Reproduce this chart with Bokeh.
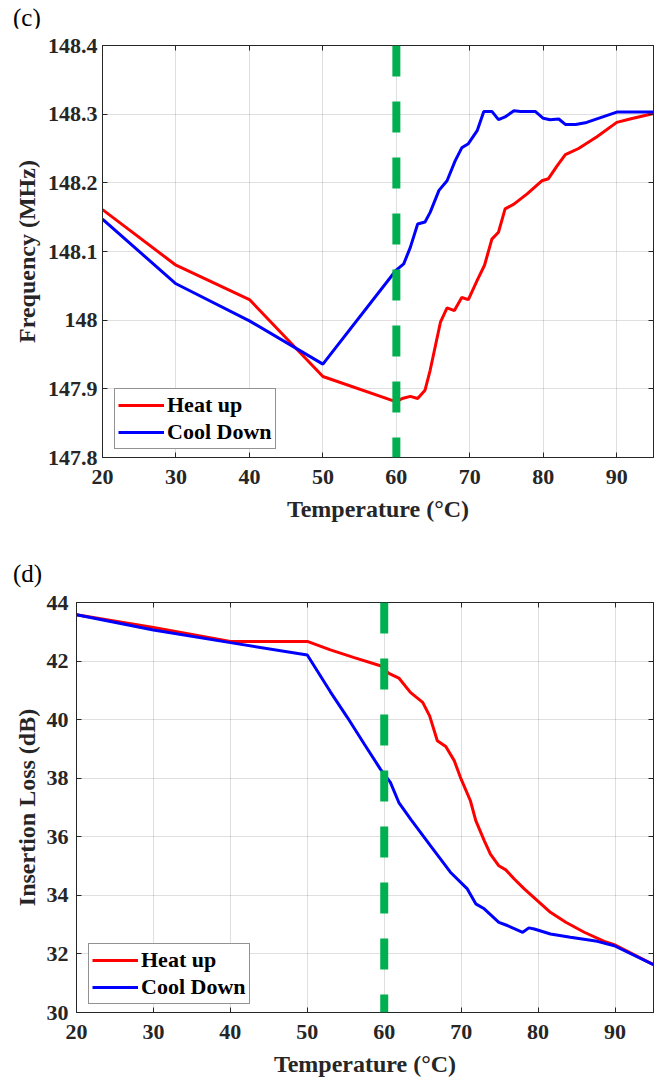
from bokeh.plotting import figure
from bokeh.models import FixedTicker, LinearAxis, Span, Range1d, Div
from bokeh.embed import file_html
from bokeh.resources import INLINE

# ---------------- data ----------------
# (c) Frequency vs temperature
temp_heat_c = [20, 30, 40, 50, 60, 60.8, 61.9, 62.9, 63.9, 64.6, 66.0, 66.9, 67.9, 68.9, 69.8,
               71.0, 72.0, 73.0, 73.9, 74.8, 76.0, 77.8, 79.8, 80.7, 81.9, 83.0, 84.8, 87.3,
               90.0, 91.8, 95]
freq_heat = [148.161, 148.080, 148.030, 147.918, 147.881, 147.886, 147.889, 147.886, 147.898,
             147.927, 147.997, 148.018, 148.014, 148.033, 148.030, 148.058, 148.080, 148.118,
             148.128, 148.162, 148.169, 148.184, 148.203, 148.206, 148.225, 148.241, 148.250,
             148.267, 148.288, 148.293, 148.301]
temp_cool_c = [20, 30, 40, 50, 59.9, 61.0, 61.9, 62.9, 63.9, 64.6, 65.8, 66.9, 68.0, 68.9, 69.8,
               71.0, 71.9, 73.0, 73.9, 74.8, 76.0, 76.9, 78.9, 80.0, 80.9, 82.1, 83.0, 84.4,
               85.9, 87.8, 90.0, 95]
freq_cool = [148.147, 148.053, 147.999, 147.936, 148.072, 148.082, 148.106, 148.140, 148.143,
             148.157, 148.189, 148.203, 148.232, 148.251, 148.257, 148.276, 148.304, 148.304,
             148.292, 148.296, 148.305, 148.304, 148.304, 148.294, 148.292, 148.293, 148.285,
             148.285, 148.288, 148.295, 148.303, 148.303]

# (d) Insertion loss vs temperature
temp_heat_d = [20, 30, 40, 50, 53.0, 56.1, 59.5, 60.6, 61.9, 63.4, 65.0, 65.9, 66.9, 68.0, 69.1,
               69.9, 71.2, 71.9, 73.0, 73.8, 74.9, 75.8, 76.9, 78.2, 79.9, 81.6, 83.6, 86.0,
               88.6, 89.9, 95]
il_heat = [43.58, 43.15, 42.67, 42.67, 42.38, 42.12, 41.84, 41.58, 41.42, 40.93, 40.59, 40.13,
           39.28, 39.08, 38.60, 38.03, 37.23, 36.55, 35.87, 35.41, 35.01, 34.87, 34.56, 34.22,
           33.82, 33.42, 33.08, 32.74, 32.43, 32.32, 31.63]
temp_cool_d = [20, 30, 40, 50, 53.0, 55.2, 57.4, 59.5, 60.8, 61.9, 63.5, 66.0, 68.6, 70.8, 71.9,
               73.0, 74.9, 76.0, 78.0, 78.8, 79.5, 81.6, 84.2, 87.7, 89.9, 95]
il_cool = [43.58, 43.06, 42.63, 42.21, 40.95, 40.08, 39.17, 38.31, 37.86, 37.17, 36.58, 35.70,
           34.79, 34.22, 33.71, 33.54, 33.08, 32.97, 32.74, 32.89, 32.85, 32.68, 32.57, 32.43,
           32.28, 31.63]

threshold_temp = 60
x_ticks = [20, 30, 40, 50, 60, 70, 80, 90]
freq_ticks = [147.8, 147.9, 148.0, 148.1, 148.2, 148.3, 148.4]
freq_tick_labels = ["147.8", "147.9", "148", "148.1", "148.2", "148.3", "148.4"]
il_ticks = [30, 32, 34, 36, 38, 40, 42, 44]
il_tick_labels = ["30", "32", "34", "36", "38", "40", "42", "44"]
series_names = ["Heat up", "Cool Down"]
panel_tags = ["(c)", "(d)"]
x_label = "Temperature (°C)"

FONT = "Liberation Serif"
AX = "#262626"


def style_axis(ax, ticks, labels, standoff, label_standoff):
    ax.ticker = FixedTicker(ticks=ticks)
    ax.major_label_overrides = {t: l for t, l in zip(ticks, labels)}
    ax.major_label_text_font = FONT
    ax.major_label_text_font_style = "bold"
    ax.major_label_text_font_size = "22px"
    ax.major_label_text_color = AX
    ax.major_label_standoff = standoff
    ax.axis_label_text_font = FONT
    ax.axis_label_text_font_style = "bold"
    ax.axis_label_text_font_size = "24px"
    ax.axis_label_text_color = AX
    ax.axis_label_standoff = label_standoff
    ax.major_tick_in = 5
    ax.major_tick_out = 0
    ax.minor_tick_line_color = None
    ax.axis_line_color = AX
    ax.major_tick_line_color = AX


def add_box_axis(p, side, ticks):
    ax = LinearAxis(ticker=FixedTicker(ticks=ticks))
    ax.major_label_text_font_size = "0px"
    ax.major_label_text_color = None
    ax.major_label_standoff = 0
    ax.major_tick_in = 5
    ax.major_tick_out = 0
    ax.minor_tick_line_color = None
    ax.axis_line_color = AX
    ax.major_tick_line_color = AX
    p.add_layout(ax, side)


def make_tag(text, height, pad_top):
    return Div(text=text, width=80, height=height, margin=0,
               styles={"font-family": FONT, "font-size": "25px", "line-height": "25px",
                       "padding-top": f"{pad_top}px", "padding-left": "13px",
                       "color": "black", "box-sizing": "border-box"})


def make_panel(xh, yh, xc, yc, yrange, yticks, ylabels, ylabel,
               height, left, top, bottom, ystandoff, ylabel_standoff):
    p = figure(width=658, height=height, output_backend="svg", toolbar_location=None,
               title=None, x_range=Range1d(20, 95), y_range=Range1d(*yrange),
               min_border_left=left, min_border_right=5, min_border_top=top,
               min_border_bottom=bottom)
    p.outline_line_color = AX
    p.background_fill_color = "white"
    p.border_fill_color = "white"

    style_axis(p.xaxis[0], x_ticks, [str(t) for t in x_ticks], 12, 9)
    p.xaxis[0].axis_label = x_label
    style_axis(p.yaxis[0], yticks, ylabels, ystandoff, ylabel_standoff)
    p.yaxis[0].axis_label = ylabel
    add_box_axis(p, "above", x_ticks)
    add_box_axis(p, "right", yticks)

    p.xgrid.ticker = FixedTicker(ticks=x_ticks)
    p.ygrid.ticker = FixedTicker(ticks=yticks)
    for g in (p.xgrid, p.ygrid):
        g.grid_line_color = AX
        g.grid_line_alpha = 0.15
        g.grid_line_width = 1

    p.line(xh, yh, line_color="#FF0000", line_width=3, legend_label=series_names[0])
    p.line(xc, yc, line_color="#0000FF", line_width=3, legend_label=series_names[1])

    p.add_layout(Span(location=threshold_temp, dimension="height", line_color="#00B050",
                      line_width=8, line_dash="31 25"))

    lg = p.legend[0]
    lg.location = (12, 8)
    lg.margin = 0
    lg.padding = 3
    lg.spacing = 1
    lg.glyph_width = 46
    lg.glyph_height = 20
    lg.label_height = 20
    lg.label_standoff = 3
    lg.label_text_font = FONT
    lg.label_text_font_style = "bold"
    lg.label_text_font_size = "22px"
    lg.label_text_color = "black"
    lg.border_line_color = AX
    lg.border_line_width = 1
    lg.background_fill_color = "white"
    lg.background_fill_alpha = 1
    return p


tag1 = make_tag(panel_tags[0], 28, 5)
p1 = make_panel(temp_heat_c, freq_heat, temp_cool_c, freq_cool, (147.8, 148.4),
                freq_ticks, freq_tick_labels, "Frequency (MHz)",
                height=512, left=102, top=17, bottom=83, ystandoff=5, ylabel_standoff=5)
tag2 = make_tag(panel_tags[1], 50, 21)
p2 = make_panel(temp_heat_d, il_heat, temp_cool_d, il_cool, (30, 44),
                il_ticks, il_tick_labels, "Insertion Loss (dB)",
                height=490, left=76, top=12, bottom=68, ystandoff=8, ylabel_standoff=4)

open("out.html", "w").write(file_html([tag1, p1, tag2, p2], INLINE))
